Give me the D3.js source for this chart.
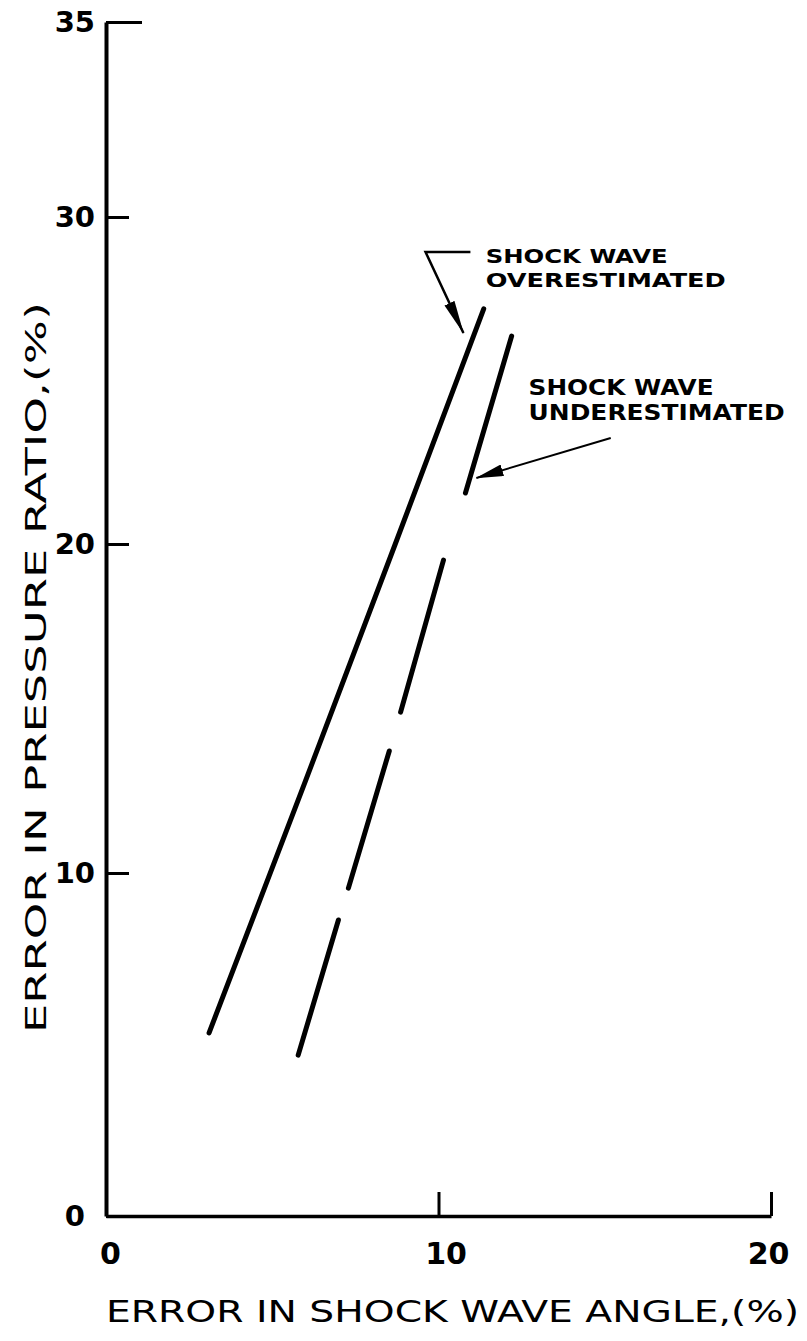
<!DOCTYPE html>
<html>
<head>
<meta charset="utf-8">
<script src="https://cdn.jsdelivr.net/npm/d3@7"></script>
<style>
  html, body { margin: 0; padding: 0; background: #fff; }
  svg { display: block; }
</style>
</head>
<body>
<svg id="chart" width="807" height="1341"></svg>
<script>
// Axis ticks
const xTickValues = [0, 10, 20];
const yTickValues = [0, 10, 20, 30, 35];

// Shock wave overestimated (solid curve): angle error vs pressure-ratio error, %
const overX = [3.10, 6.00, 8.70, 11.36];
const overY = [5.34, 12.8, 20.0, 27.19];

// Shock wave underestimated (long-dash curve); null marks a break between dashes
const underX = [5.78, 6.99, null, 7.29, 8.52, null, 8.86, 10.15, null, 10.81, 12.20];
const underY = [4.69, 8.63, null, 9.56, 13.71, null, 14.89, 19.51, null, 21.56, 26.36];

// Callout labels
const overLabel = ["SHOCK WAVE", "OVERESTIMATED"];
const underLabel = ["SHOCK WAVE", "UNDERESTIMATED"];
const xTitle = "ERROR IN SHOCK WAVE ANGLE,(%)";
const yTitle = "ERROR IN PRESSURE RATIO,(%)";

const svg = d3.select("#chart");
const ink = "#000";
const font = "'DejaVu Sans', 'Liberation Sans', sans-serif";

// The printed y axis is slightly uneven, so the scale follows its tick positions
const x = d3.scaleLinear().domain([0, 20]).range([106, 771]);
const y = d3.scaleLinear().domain([0, 10, 20, 30, 35]).range([1216, 873, 544, 217, 22]);

// ---- Axes ----
const xAxis = svg.append("g")
  .attr("transform", `translate(0,${y(0)})`)
  .call(d3.axisBottom(x).tickValues(xTickValues).tickSizeInner(-24).tickSizeOuter(0).tickPadding(27).tickFormat(d3.format("d")));
xAxis.select(".domain").attr("stroke", ink).attr("stroke-width", 3.5);
xAxis.selectAll(".tick line").attr("stroke", ink).attr("stroke-width", 3);
xAxis.selectAll(".tick text")
  .attr("fill", ink).attr("font-family", font).attr("font-size", 30).attr("font-weight", "bold")
  .attr("dx", d => d === 0 ? 4 : (d === 10 ? 7 : -3));

const yAxis = svg.append("g")
  .attr("transform", `translate(${x(0)},0)`)
  .call(d3.axisLeft(y).tickValues(yTickValues).tickSizeInner(-23).tickSizeOuter(0).tickPadding(11).tickFormat(d3.format("d")));
yAxis.select(".domain").attr("stroke", ink).attr("stroke-width", 4);
yAxis.selectAll(".tick line").attr("stroke", ink).attr("stroke-width", 3)
  .attr("x2", d => d === 35 ? 36 : 23);
yAxis.selectAll(".tick text")
  .attr("fill", ink).attr("font-family", font).attr("font-size", 29).attr("font-weight", "bold")
  .attr("x", d => d === 0 ? -21 : -11);

// Axis titles
svg.append("text")
  .attr("x", x(0)).attr("y", 1322)
  .attr("textLength", 693).attr("lengthAdjust", "spacingAndGlyphs")
  .attr("font-family", font).attr("font-size", 30).attr("fill", ink)
  .text(xTitle);

svg.append("text")
  .attr("transform", `translate(46,1033) rotate(-90)`)
  .attr("textLength", 731).attr("lengthAdjust", "spacingAndGlyphs")
  .attr("font-family", font).attr("font-size", 29).attr("fill", ink)
  .text(yTitle);

// ---- Curves ----
const overData = overX.map((v, i) => ({ x: v, y: overY[i] }));
const underData = underX.map((v, i) => ({ x: v, y: underY[i] }));

const line = d3.line()
  .defined(d => d.x != null && d.y != null)
  .x(d => x(d.x)).y(d => y(d.y));

svg.append("path")
  .datum(overData)
  .attr("d", line)
  .attr("fill", "none").attr("stroke", ink).attr("stroke-width", 5)
  .attr("stroke-linecap", "round").attr("stroke-linejoin", "round");

svg.append("path")
  .datum(underData)
  .attr("d", line)
  .attr("fill", "none").attr("stroke", ink).attr("stroke-width", 5)
  .attr("stroke-linecap", "round");

// ---- Callouts ----
const defs = svg.append("defs");
defs.append("marker")
  .attr("id", "headLong")
  .attr("markerUnits", "userSpaceOnUse")
  .attr("viewBox", "0 -6 34 12")
  .attr("markerWidth", 34).attr("markerHeight", 12)
  .attr("refX", 33).attr("refY", 0)
  .attr("orient", "auto")
  .append("path").attr("d", "M0,-5.5L34,0L0,5.5Z").attr("fill", ink);
defs.append("marker")
  .attr("id", "headShort")
  .attr("markerUnits", "userSpaceOnUse")
  .attr("viewBox", "0 -6 28 12")
  .attr("markerWidth", 28).attr("markerHeight", 12)
  .attr("refX", 27).attr("refY", 0)
  .attr("orient", "auto")
  .append("path").attr("d", "M0,-6L28,0L0,6Z").attr("fill", ink);

// Overestimated: leader with a kink, pointing at the top of the solid curve
const overLeader = [[10.96, 28.93], [9.61, 28.93], [10.75, 26.45]];
svg.append("path")
  .attr("d", d3.line().x(d => x(d[0])).y(d => y(d[1]))(overLeader))
  .attr("fill", "none").attr("stroke", ink).attr("stroke-width", 2.5)
  .attr("marker-end", "url(#headLong)");

// Underestimated: straight leader pointing at the upper dash
const underLeader = [[15.18, 23.24], [11.14, 22.02]];
svg.append("path")
  .attr("d", d3.line().x(d => x(d[0])).y(d => y(d[1]))(underLeader))
  .attr("fill", "none").attr("stroke", ink).attr("stroke-width", 2)
  .attr("marker-end", "url(#headShort)");

function callout(lines, xv, yv, lineGap, size, widths) {
  const g = svg.append("g").attr("transform", `translate(${x(xv)},${y(yv)})`);
  lines.forEach((t, i) => {
    g.append("text")
      .attr("x", 0).attr("y", i * lineGap)
      .attr("textLength", widths[i]).attr("lengthAdjust", "spacingAndGlyphs")
      .attr("font-family", font).attr("font-size", size).attr("font-weight", "bold")
      .attr("fill", ink)
      .text(t);
  });
}
callout(overLabel, 11.42, 28.59, 23.5, 20, [182, 240]);
callout(underLabel, 12.71, 24.56, 25, 21, [185, 256]);
</script>
</body>
</html>
